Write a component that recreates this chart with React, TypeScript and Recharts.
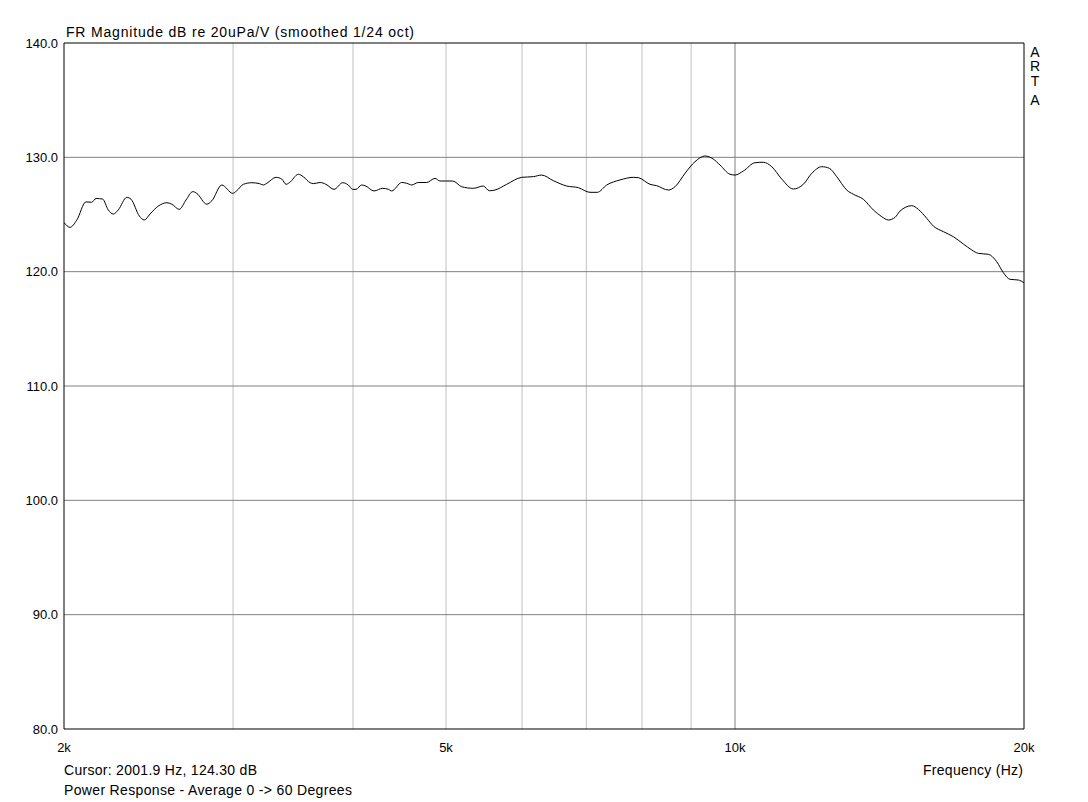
import { LineChart, Line, XAxis, YAxis, ReferenceLine } from 'recharts';

// Frequency response (Hz, dB)
const freqHz = [
  2000, 2029, 2062, 2108, 2137, 2160, 2194, 2224, 2251, 2278,
  2325, 2349, 2396, 2425, 2458, 2508, 2559, 2590, 2637, 2680,
  2724, 2750, 2817, 2851, 2920, 2998, 3027, 3075, 3138, 3196,
  3226, 3253, 3326, 3372, 3407, 3434, 3509, 3551, 3609, 3638,
  3696, 3749, 3822, 3903, 3955, 3997, 4029, 4084, 4117, 4207,
  4296, 4354, 4389, 4496, 4550, 4605, 4678, 4773, 4869, 4928,
  5081, 5191, 5338, 5467, 5547, 5623, 5783, 5995, 6164, 6289,
  6467, 6678, 6867, 7062, 7187, 7351, 7589, 7836, 7930, 8156,
  8288, 8522, 8660, 8870, 9085, 9305, 9492, 9646, 9880, 10000,
  10201, 10492, 10703, 10921, 11186, 11502, 11781, 12021, 12312, 12539,
  12763, 13073, 13282, 13604, 13934, 14218, 14445, 14679, 14856, 15279,
  15523, 15839, 16092, 16482, 16882, 17292, 17644, 17926, 18360, 18734,
  19034, 19342, 19728, 20000,
];
const magDb = [
  124.3, 123.88, 124.5, 126.1, 126.07, 126.4, 126.35, 125.4, 125.04, 125.4,
  126.5, 126.33, 124.87, 124.52, 125.04, 125.74, 126.03, 125.9, 125.45, 126.27,
  127.0, 126.85, 125.9, 126.2, 127.58, 126.85, 127.08, 127.64, 127.78, 127.7,
  127.58, 127.73, 128.25, 128.1, 127.64, 127.78, 128.52, 128.3, 127.78, 127.7,
  127.8, 127.64, 127.2, 127.78, 127.58, 127.2, 127.2, 127.58, 127.52, 127.06,
  127.29, 127.2, 127.06, 127.8, 127.73, 127.58, 127.8, 127.8, 128.16, 127.93,
  127.93, 127.43, 127.29, 127.49, 127.08, 127.14, 127.64, 128.25, 128.31, 128.45,
  127.96, 127.49, 127.35, 126.94, 126.94, 127.58, 128.02, 128.25, 128.22, 127.64,
  127.52, 127.14, 127.43, 128.6, 129.62, 130.12, 129.85, 129.33, 128.52, 128.45,
  128.8, 129.53, 129.57, 129.18, 128.1, 127.23, 127.64, 128.6, 129.18, 129.04,
  128.31, 127.14, 126.77, 126.33, 125.4, 124.81, 124.52, 124.75, 125.3, 125.77,
  125.45, 124.67, 123.99, 123.5, 123.06, 122.42, 121.9, 121.6, 121.52, 120.87,
  119.91, 119.33, 119.27, 119.03,
];

const xTicks = [2000, 5000, 10000, 20000];
const yTicks = [80, 90, 100, 110, 120, 130, 140];
const minorFreqs = [3000, 4000, 5000, 6000, 7000, 8000, 9000];
const majorFreqs = [10000];
const dbGrid = [90, 100, 110, 120, 130];

const data = freqHz.map((f, i) => ({ f, db: magDb[i] }));

const FONT = '"Liberation Sans", Arial, sans-serif';
const tickStyle = { fontSize: 13, fill: '#000', fontFamily: FONT };

export default function App() {
  return (
    <div style={{ position: 'absolute', left: 0, top: 0, width: 1088, height: 802, background: '#fff' }}>
      <LineChart
        width={1088}
        height={802}
        data={data}
        margin={{ top: 43, right: 64, left: 4, bottom: 53 }}
      >
        <XAxis
          dataKey="f"
          type="number"
          scale="log"
          domain={[2000, 20000]}
          ticks={xTicks}
          tickFormatter={(v: number) => `${v / 1000}k`}
          axisLine={false}
          tickLine={false}
          tickSize={0}
          tickMargin={14}
          height={20}
          tick={tickStyle}
          interval={0}
          allowDataOverflow
        />
        <YAxis
          type="number"
          domain={[80, 140]}
          ticks={yTicks}
          tickFormatter={(v: number) => v.toFixed(1)}
          axisLine={false}
          tickLine={false}
          tickSize={0}
          tickMargin={6}
          width={60}
          tick={tickStyle}
          interval={0}
        />
        {minorFreqs.map((f) => (
          <ReferenceLine key={`mn-${f}`} x={f} stroke="#c0c0c0" />
        ))}
        {majorFreqs.map((f) => (
          <ReferenceLine key={`mj-${f}`} x={f} stroke="#808080" />
        ))}
        {dbGrid.map((d) => (
          <ReferenceLine key={`db-${d}`} y={d} stroke="#808080" />
        ))}
        <ReferenceLine x={2000} stroke="#000" />
        <ReferenceLine x={20000} stroke="#000" />
        <ReferenceLine y={80} stroke="#000" />
        <ReferenceLine y={140} stroke="#000" />
        <Line
          type="monotone"
          dataKey="db"
          stroke="#000"
          strokeWidth={1}
          dot={false}
          isAnimationActive={false}
        />
      </LineChart>
      <svg
        width={1088}
        height={802}
        style={{ position: 'absolute', left: 0, top: 0, pointerEvents: 'none' }}
        fontFamily={FONT}
        fontSize={14}
      >
        <text x={66} y={37} textLength={348} lengthAdjust="spacing">
          FR Magnitude dB re 20uPa/V (smoothed 1/24 oct)
        </text>
        <text x={1035} y={57} textAnchor="middle">A</text>
        <text x={1035} y={71} textAnchor="middle">R</text>
        <text x={1035} y={86} textAnchor="middle">T</text>
        <text x={1035} y={105} textAnchor="middle">A</text>
        <text x={64} y={775} textLength={193} lengthAdjust="spacing">
          Cursor: 2001.9 Hz, 124.30 dB
        </text>
        <text x={923} y={775} textLength={100} lengthAdjust="spacing">
          Frequency (Hz)
        </text>
        <text x={64} y={795} textLength={288} lengthAdjust="spacing">
          Power Response - Average 0 -&gt; 60 Degrees
        </text>
      </svg>
    </div>
  );
}
